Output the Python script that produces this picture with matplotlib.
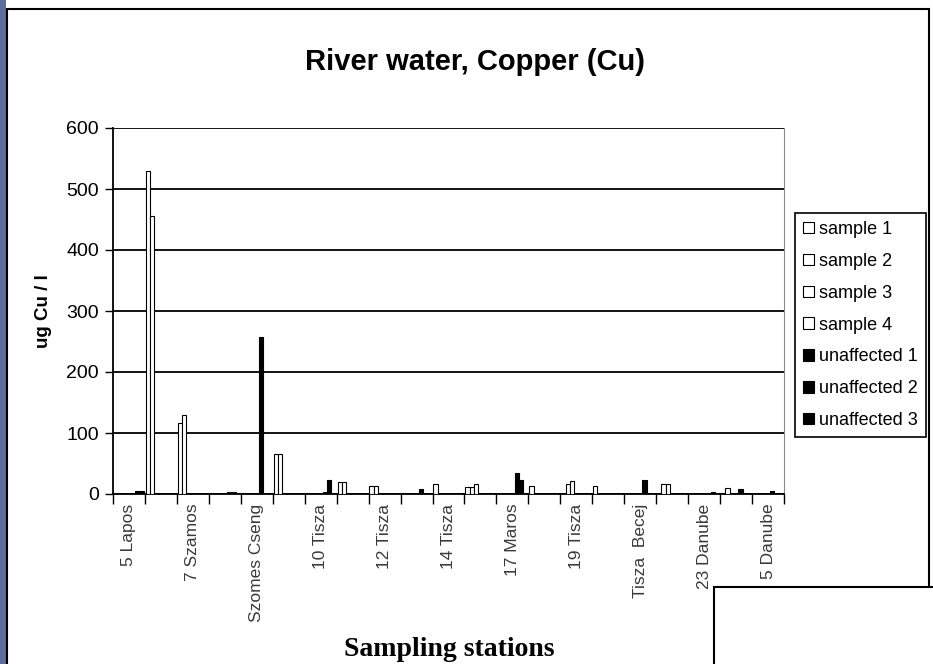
import numpy as np
import matplotlib
matplotlib.use("Agg")
import matplotlib.pyplot as plt
from matplotlib.patches import Rectangle, Patch

plt.rcParams['font.family'] = ['Liberation Sans', 'DejaVu Sans']

nan = np.nan

# 21 stations, only every other one labelled on the axis
n_cat = 21
station_labels = ["5 Lapos", "7 Szamos", "Szomes Cseng", "10 Tisza", "12 Tisza",
                  "14 Tisza", "17 Maros", "19 Tisza", "Tisza  Becej",
                  "23 Danube", "5 Danube"]

series_names = ["sample 1", "sample 2", "sample 3", "sample 4",
                "unaffected 1", "unaffected 2", "unaffected 3"]

sample_1 = [nan, 530, 117, nan, nan, 65, nan, 19, 13, nan, 17,
            12, nan, 13, nan, 13, nan, nan, nan, nan, nan]
sample_2 = [nan, 455, 129, nan, nan, 65, nan, 19, 13, nan, nan,
            12, nan, nan, 16, nan, nan, 16, nan, 10, nan]
sample_3 = [nan, nan, nan, nan, nan, nan, nan, nan, nan, nan, nan,
            16, nan, nan, 22, nan, nan, 16, nan, nan, nan]
sample_4 = [nan] * n_cat
unaffected_1 = [nan, nan, nan, 3, 258, nan, 3, nan, nan, 8, nan,
                nan, 35, nan, nan, nan, 23, nan, nan, 8, 5]
unaffected_2 = [5, nan, nan, 3, nan, nan, 23, nan, nan, nan, nan,
                nan, 23, nan, nan, nan, nan, nan, 4, nan, nan]
unaffected_3 = [5, nan, nan, nan, nan, nan, nan, nan, nan, nan, nan,
                nan, nan, nan, nan, nan, nan, nan, nan, nan, nan]

all_series = [sample_1, sample_2, sample_3, sample_4,
              unaffected_1, unaffected_2, unaffected_3]
fills = ["white"] * 4 + ["black"] * 3

fig = plt.figure(figsize=(9.33, 6.64), dpi=100)
W, H = 933, 664

# slide background strip on the left + chart frame
fig.patches.append(Rectangle((0, 0), 6 / W, 1, transform=fig.transFigure,
                             facecolor="#5f6d99", edgecolor="none", zorder=-2))
fig.patches.append(Rectangle((7 / W, -0.1), (929 - 7) / W, 1 - 9 / H + 0.1,
                             transform=fig.transFigure, facecolor="white",
                             edgecolor="black", linewidth=1.5, zorder=-1))

ax = fig.add_axes([113 / W, 1 - 494 / H, (784 - 113) / W, (494 - 128) / H])
ax.set_zorder(1)
ax.set_facecolor("none")

x = np.arange(n_cat)
bw = 0.135
for j, (vals, fc) in enumerate(zip(all_series, fills)):
    ax.bar(x + (j - 3) * bw, vals, width=bw, facecolor=fc,
           edgecolor="black", linewidth=0.8, zorder=3)

ax.set_xlim(-0.5, n_cat - 0.5)
ax.set_ylim(0, 600)
ax.set_yticks(np.arange(0, 601, 100))
ax.yaxis.grid(True, color="black", linewidth=1.3)
ax.set_axisbelow(True)
ax.tick_params(axis="y", direction="out", length=6, width=1, labelsize=14, pad=4)

ax.set_xticks(np.arange(-0.5, n_cat, 1))
ax.set_xticklabels([])
ax.tick_params(axis="x", which="major", direction="out", length=7, width=1)
ax.set_xticks(np.arange(0, n_cat, 2), minor=True)
ax.set_xticklabels(station_labels, minor=True, rotation=90, fontsize=12.5,
                   color="#3a3a3a")
ax.tick_params(axis="x", which="minor", length=0, pad=7)

ax.spines["top"].set_visible(False)
ax.spines["right"].set_color("#888888")
ax.spines["left"].set_linewidth(1.3)
ax.spines["bottom"].set_linewidth(1.3)

ax.set_ylabel("ug Cu / l", fontsize=13.5, fontweight="bold", labelpad=10)
fig.text(475 / W, 1 - 62 / H, "River water, Copper (Cu)", fontsize=21,
         fontweight="bold", ha="center", va="center")
fig.text(449 / W, 1 - 650 / H, "Sampling stations", fontsize=20,
         fontweight="bold", ha="center", va="center",
         family=["Liberation Serif", "DejaVu Serif"])

handles = [Patch(facecolor=fc, edgecolor="black", linewidth=0.8)
           for fc in fills]
leg = fig.legend(handles, series_names, loc="upper left",
                 bbox_to_anchor=(795 / W, 1 - 213 / H), fontsize=13,
                 frameon=True, fancybox=False, edgecolor="black",
                 framealpha=1, handlelength=0.6, handleheight=0.6,
                 handletextpad=0.3, labelspacing=0.82, borderpad=0.45,
                 borderaxespad=0)
leg.get_frame().set_linewidth(1.2)

# empty box in the lower right corner
fig.patches.append(Rectangle((714 / W, -0.1), 0.5, 0.1 + 1 - 587 / H,
                             transform=fig.transFigure, facecolor="white",
                             edgecolor="black", linewidth=1.5, zorder=5))

fig.savefig("out.png", dpi=100)
